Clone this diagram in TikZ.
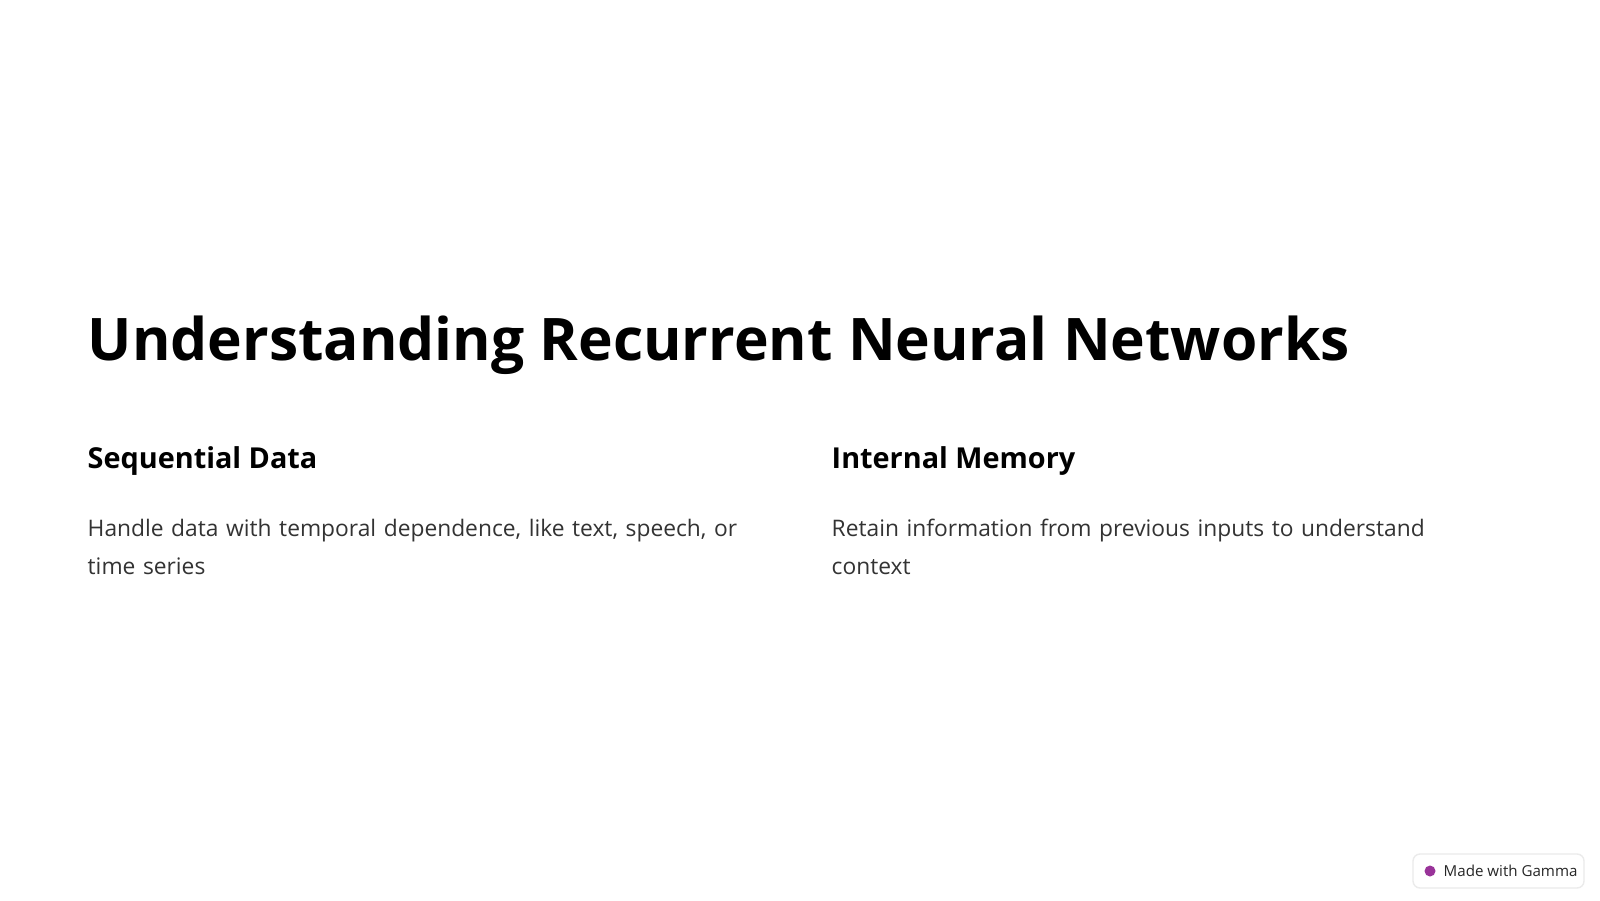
\documentclass[tikz,border=0pt]{standalone}
\usepackage{fontspec}
\setmainfont{Open Sans}
\hyphenpenalty=10000
\begin{document}
\begin{tikzpicture}[
  title/.style={anchor=base west, inner sep=0pt, font=\fontsize{16.7}{20}\selectfont\bfseries},
  head/.style={anchor=base west, inner sep=0pt, font=\fontsize{8.2}{10}\selectfont\bfseries},
  body/.style={anchor=base west, inner sep=0pt, align=left, text width=6.7cm,
    font=\fontsize{6.48}{10.9}\selectfont, text=black!80}
  ]
  \useasboundingbox [fill=white] (0,0) rectangle (16,9);
  \node [title] (tit) at (0.87,5.40) {Understanding Recurrent Neural Networks};
  \node [head] (h1) at (0.87,4.32) {Sequential Data};
  \node [head] (h2) at (8.31,4.32) {Internal Memory};
  \node [body] (b1) at (0.87,3.64) {Handle data with temporal dependence, like text, speech, or time series};
  \node [body] (b2) at (8.31,3.64) {Retain information from previous inputs to understand context};
  % badge
  \draw [black!8, fill=white, rounded corners=2pt] (14.13,0.12) rectangle (15.84,0.46);
  \node [anchor=west, inner sep=0pt, font=\fontsize{4.3}{5}\selectfont, text=black!85] (badge) at (14.43,0.29) {Made with Gamma};
  \fill [violet!80] (14.30,0.29) circle (0.055);
\end{tikzpicture}
\end{document}
